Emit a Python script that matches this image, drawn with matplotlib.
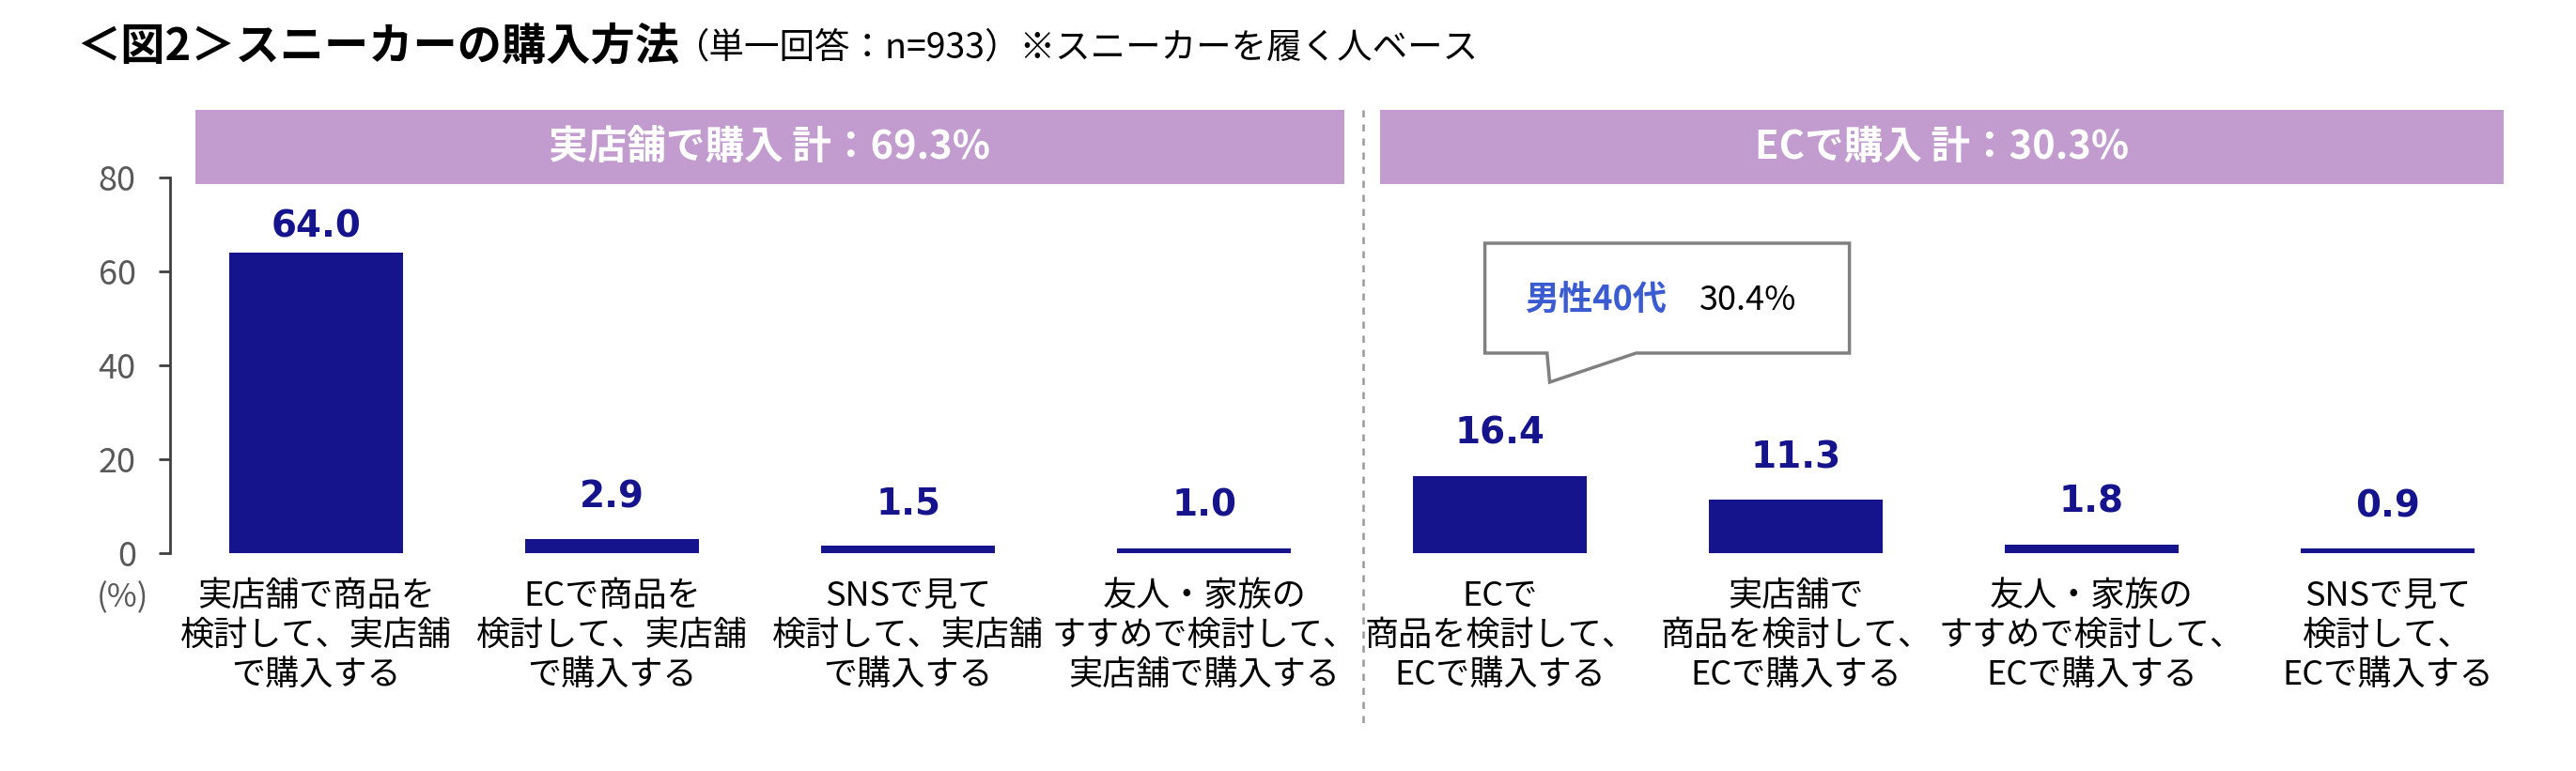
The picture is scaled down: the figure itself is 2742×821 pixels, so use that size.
import matplotlib
matplotlib.use("Agg")
import matplotlib.pyplot as plt
from matplotlib.patches import Rectangle, Polygon

plt.rcParams['font.family'] = ['Noto Sans CJK JP', 'DejaVu Sans']

# --- Data ---
categories = [
    "実店舗で商品を\n検討して、実店舗\nで購入する",
    "ECで商品を\n検討して、実店舗\nで購入する",
    "SNSで見て\n検討して、実店舗\nで購入する",
    "友人・家族の\nすすめで検討して、\n実店舗で購入する",
    "ECで\n商品を検討して、\nECで購入する",
    "実店舗で\n商品を検討して、\nECで購入する",
    "友人・家族の\nすすめで検討して、\nECで購入する",
    "SNSで見て\n検討して、\nECで購入する",
]
values = [64.0, 2.9, 1.5, 1.0, 16.4, 11.3, 1.8, 0.9]
groups = ["実店舗で購入 計：69.3%", "ECで購入 計：30.3%"]
callout_label = "男性40代"
callout_value = "30.4%"
y_ticks = [0, 20, 40, 60, 80]

BAR = "#15148c"
BAND = "#c29bcf"
GRAY = "#595959"

fig = plt.figure(figsize=(27.42, 8.21), dpi=100)
ax = fig.add_axes([0.066, 0.2826, 0.9183, 0.4872])

x = list(range(len(values)))
ax.bar(x, values, width=0.587, color=BAR)
ax.set_xlim(-0.495, 7.5)
ax.set_ylim(0, 80)

# value labels
for i, v in zip(x, values):
    off = 6 if v > 60 else 19
    ax.annotate(f"{v:.1f}", (i, v), xytext=(0, off), textcoords="offset points",
                ha="center", va="bottom", fontsize=28, fontweight="bold",
                color=BAR, family="DejaVu Sans")

# axes styling
for s in ["top", "right", "bottom"]:
    ax.spines[s].set_visible(False)
ax.spines["left"].set_color("#404040")
ax.spines["left"].set_linewidth(2)
ax.set_yticks(y_ticks)
ax.tick_params(axis="y", direction="out", length=9, width=2, color="#404040",
               labelsize=26, labelcolor=GRAY, pad=17)
ax.set_xticks(x)
ax.set_xticklabels(categories, fontsize=26, linespacing=1.22)
ax.tick_params(axis="x", length=0, pad=20)
ax.text(-0.02, -0.12, "(%)", transform=ax.transAxes, ha="center", va="center",
        fontsize=25, color=GRAY)

# group header bands
bands = [(-0.41, 3.473), (3.594, 7.391)]
for (x0, x1), g in zip(bands, groups):
    ax.add_patch(Rectangle((x0, 78.6), x1 - x0, 15.8, facecolor=BAND,
                           edgecolor="none", clip_on=False))
    ax.text((x0 + x1) / 2, 86.5, g, ha="center", va="center", fontsize=30,
            fontweight="bold", color="white")

# divider
ax.plot([3.537, 3.537], [94.4, -36.2], color="#999999", lw=1.8,
        ls=(0, (3, 3)), clip_on=False)

# callout bubble
bubble = [(3.949, 66), (5.181, 66), (5.181, 42.6), (4.46, 42.6),
          (4.168, 36.4), (4.159, 42.6), (3.949, 42.6)]
ax.add_patch(Polygon(bubble, closed=True, facecolor="white",
                     edgecolor="#808080", lw=2.5, clip_on=False))
ax.text(4.083, 53.8, callout_label, ha="left", va="center", fontsize=26,
        fontweight="bold", color="#3b5bd1")
ax.text(4.673, 53.8, callout_value, ha="left", va="center", fontsize=26,
        color="black")

# title
fig.text(0.0295, 0.940, "＜図2＞スニーカーの購入方法", ha="left", va="center",
         fontsize=34, fontweight="bold")
fig.text(0.262, 0.938, "（単一回答：n=933）※スニーカーを履く人ベース",
         ha="left", va="center", fontsize=27)

fig.savefig("out.png", dpi=100)
